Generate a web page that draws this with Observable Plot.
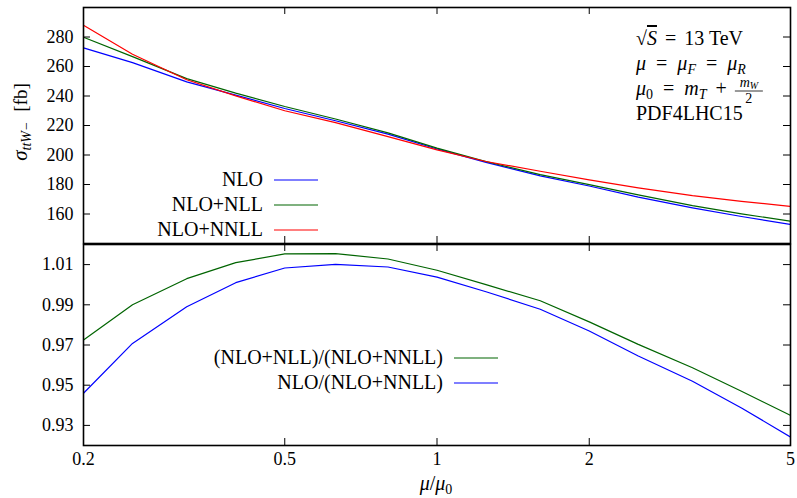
<!DOCTYPE html>
<html><head><meta charset="utf-8">
<script src="https://cdn.jsdelivr.net/npm/d3@7"></script>
<script src="https://cdn.jsdelivr.net/npm/@observablehq/plot@0.6"></script>
<style>
body{margin:0;background:#fff;}
#chart{position:relative;width:797px;height:498px;background:#fff;}
#chart svg{position:absolute;left:0;overflow:visible;}
</style></head><body><div id="chart"></div>
<script>
// scale ratio mu/mu0
const mu = [0.2, 0.25, 0.32, 0.4, 0.5, 0.63, 0.8, 1, 1.25, 1.6, 2, 2.5, 3.2, 4, 5];
// cross sections [fb]
const sigmaNLO   = [272.6, 262.6, 249.6, 240.6, 231.5, 223.2, 214.2, 204.1, 195.0, 185.8, 179.0, 171.4, 164.2, 158.3, 152.9];
const sigmaNLL   = [279.8, 266.7, 251.8, 241.9, 232.9, 224.4, 215.0, 204.7, 195.6, 186.7, 179.9, 173.0, 165.7, 160.1, 155.1];
const sigmaNNLL  = [287.9, 268.3, 251.0, 240.1, 230.0, 222.0, 212.5, 203.5, 195.6, 189.0, 183.1, 177.7, 172.5, 168.6, 165.1];
// ratios
const ratioNLL = [0.9725, 0.990, 1.003, 1.011, 1.0153, 1.0155, 1.0128, 1.0072, 1.000, 0.992, 0.9815, 0.9703, 0.9587, 0.947, 0.935];
const ratioNLO = [0.946, 0.9708, 0.989, 1.001, 1.0083, 1.0101, 1.0088, 1.0038, 0.9965, 0.9878, 0.977, 0.9645, 0.952, 0.9387, 0.9242];
// ticks
const xTicks = [0.2, 0.5, 1, 2, 5];
const xTickLabels = ["0.2", "0.5", "1", "2", "5"];
const yTicksTop = [160, 180, 200, 220, 240, 260, 280];
const yTicksBottom = [0.93, 0.95, 0.97, 0.99, 1.01];

const colors = {NLO: "#0000ff", NLL: "#006400", NNLL: "#ff0000"};
const FONT = "'Liberation Serif', 'DejaVu Serif', serif";

const W = 797, ML = 83, MR = 7;
const FW = W - ML - MR;
const TL = 7; // tick length
const TICKFS = 18;

const topData = mu.flatMap((m, i) => [
  {mu: m, v: sigmaNLO[i], s: "NLO"},
  {mu: m, v: sigmaNLL[i], s: "NLL"},
  {mu: m, v: sigmaNNLL[i], s: "NNLL"}
]);
const botData = mu.flatMap((m, i) => [
  {mu: m, v: ratioNLL[i], s: "NLL"},
  {mu: m, v: ratioNLO[i], s: "NLO"}
]);

function tickMarks(yTicks, FH) {
  return [
    Plot.tickY(yTicks, {y: d => d, insetRight: FW - TL, stroke: "black", strokeWidth: 1}),
    Plot.tickY(yTicks, {y: d => d, insetLeft: FW - TL, stroke: "black", strokeWidth: 1}),
    Plot.tickX(xTicks.slice(1, -1), {x: d => d, insetTop: FH - TL, stroke: "black", strokeWidth: 1}),
    Plot.tickX(xTicks.slice(1, -1), {x: d => d, insetBottom: FH - TL, stroke: "black", strokeWidth: 1})
  ];
}

// ---- top panel
const HT = 244, MTt = 7, MBt = 1;
const topPlot = Plot.plot({
  width: W, height: HT,
  marginLeft: ML, marginRight: MR, marginTop: MTt, marginBottom: MBt,
  style: {fontFamily: FONT, fontSize: TICKFS + "px", color: "black", background: "transparent"},
  x: {type: "log", domain: [0.2, 5], axis: null},
  y: {domain: [140, 300], axis: null},
  color: {domain: ["NLO", "NLL", "NNLL"], range: [colors.NLO, colors.NLL, colors.NNLL]},
  marks: [
    Plot.line(topData, {x: "mu", y: "v", z: "s", stroke: "s", strokeWidth: 1.2, clip: true}),
    ...tickMarks(yTicksTop, HT - MTt - MBt),
    Plot.axisY({ticks: yTicksTop, tickSize: 0, tickPadding: 10, label: null, fontSize: TICKFS, tickFormat: d => String(d)}),
    Plot.frame({stroke: "black", strokeWidth: 1.6})
  ]
});

// ---- bottom panel
const HB = 255, MTb = 1, MBb = 53;
const botPlot = Plot.plot({
  width: W, height: HB,
  marginLeft: ML, marginRight: MR, marginTop: MTb, marginBottom: MBb,
  style: {fontFamily: FONT, fontSize: TICKFS + "px", color: "black", background: "transparent"},
  x: {type: "log", domain: [0.2, 5], axis: null},
  y: {domain: [0.92, 1.02], axis: null},
  color: {domain: ["NLO", "NLL", "NNLL"], range: [colors.NLO, colors.NLL, colors.NNLL]},
  marks: [
    Plot.line(botData, {x: "mu", y: "v", z: "s", stroke: "s", strokeWidth: 1.2, clip: true}),
    ...tickMarks(yTicksBottom, HB - MTb - MBb),
    Plot.axisY({ticks: yTicksBottom, tickSize: 0, tickPadding: 10, label: null, fontSize: TICKFS, tickFormat: d3.format(".2f")}),
    Plot.axisX({ticks: xTicks, tickSize: 0, tickPadding: 7, label: null, fontSize: TICKFS, tickFormat: d => xTickLabels[xTicks.indexOf(d)]}),
    Plot.frame({stroke: "black", strokeWidth: 1.6})
  ]
});

const chart = document.getElementById("chart");
topPlot.style.top = "0px";
botPlot.style.top = "243px";
chart.appendChild(topPlot);
chart.appendChild(botPlot);

// ---- annotations
const st = d3.select(topPlot);
const sb = d3.select(botPlot);

function addText(sel, x, y, anchor, size, parts) {
  const t = sel.append("text").attr("x", x).attr("y", y).attr("text-anchor", anchor)
    .style("font-family", FONT).attr("font-size", size).attr("fill", "black");
  let base = 0;
  for (const p of parts) {
    const ts = t.append("tspan").text(p.t);
    if (p.i) ts.attr("font-style", "italic");
    if (p.s) ts.attr("font-size", p.s);
    const off = p.dy || 0;
    if (off !== base) { ts.attr("dy", off - base); base = off; }
    if (p.dx) ts.attr("dx", p.dx);
    if (p.o) ts.attr("text-decoration", "overline");
  }
  return t;
}

// y label (rotated)
const yl = st.append("text").attr("transform", "translate(27,122) rotate(-90)")
  .attr("text-anchor", "middle").style("font-family", FONT).attr("font-size", 19).attr("fill", "black");
yl.append("tspan").attr("font-style", "italic").attr("font-size", 21).text("σ");
yl.append("tspan").attr("font-style", "italic").attr("font-size", 14).attr("dy", 4).text("ttW−");
yl.append("tspan").attr("dy", -4).attr("dx", 10).text("[fb]");

// physics info
const AX = 636;
addText(st, AX, 45, "start", 20, [{t: "√"}, {t: "S", i: 1, o: 1}, {t: " = ", dx: 3}, {t: "13 TeV", dx: 3}]);
addText(st, AX, 70, "start", 20, [{t: "μ", i: 1}, {t: " = ", dx: 5}, {t: "μ", i: 1, dx: 5}, {t: "F", i: 1, s: 14, dy: 4}, {t: " = ", dx: 5}, {t: "μ", i: 1, dx: 5}, {t: "R", i: 1, s: 14, dy: 4}]);
const l3 = addText(st, AX, 95, "start", 20, [{t: "μ", i: 1}, {t: "0", s: 14, dy: 4}, {t: " = ", dx: 5}, {t: "m", i: 1, dx: 5}, {t: "T", i: 1, s: 14, dy: 4}, {t: " + ", dx: 4}]);
const bb = l3.node().getBBox();
const fx = bb.x + bb.width + 17;
addText(st, fx, 87, "middle", 14, [{t: "m", i: 1}, {t: "W", i: 1, s: 10, dy: 2}]);
st.append("line").attr("x1", fx - 14).attr("x2", fx + 14).attr("y1", 91).attr("y2", 91).attr("stroke", "black").attr("stroke-width", 0.8);
addText(st, fx, 103, "middle", 14, [{t: "2"}]);
addText(st, AX, 120, "start", 20, [{t: "PDF4LHC15"}]);

// top legend
const legTop = [["NLO", colors.NLO], ["NLO+NLL", colors.NLL], ["NLO+NNLL", colors.NNLL]];
legTop.forEach(([lab, c], i) => {
  const y = 180 + i * 25;
  addText(st, 263, y + 6, "end", 20, [{t: lab}]);
  st.append("line").attr("x1", 274).attr("x2", 318).attr("y1", y).attr("y2", y).attr("stroke", c).attr("stroke-width", 1.2);
});

// bottom legend (coordinates relative to bottom svg at top 243)
const legBot = [["(NLO+NLL)/(NLO+NNLL)", colors.NLL], ["NLO/(NLO+NNLL)", colors.NLO]];
legBot.forEach(([lab, c], i) => {
  const y = 358 + i * 25 - 243;
  addText(sb, 443, y + 6, "end", 20, [{t: lab}]);
  sb.append("line").attr("x1", 454).attr("x2", 498).attr("y1", y).attr("y2", y).attr("stroke", c).attr("stroke-width", 1.2);
});

// x label
addText(sb, 436, 490 - 243, "middle", 20, [{t: "μ", i: 1}, {t: "/"}, {t: "μ", i: 1}, {t: "0", s: 14, dy: 4}]);
</script>
</body></html>
